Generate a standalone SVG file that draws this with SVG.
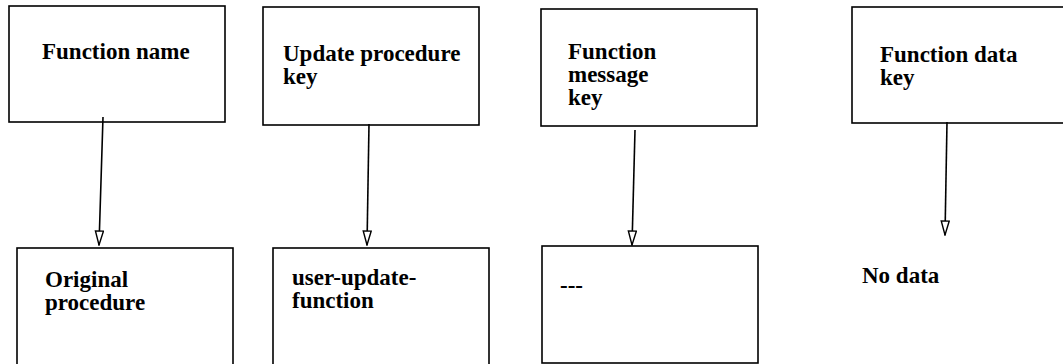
<svg xmlns="http://www.w3.org/2000/svg" width="1063" height="364" viewBox="0 0 1063 364">
<style>
  .box { fill: #ffffff; stroke: #000000; stroke-width: 1.6; }
  .t { font-family: "Liberation Serif", "Times New Roman", serif; font-weight: bold; font-size: 23px; fill: #000000; }
  .c { stroke: #000000; stroke-width: 1.6; fill: none; marker-end: url(#arrow); }
</style>
<defs>
  <marker id="arrow" markerWidth="16" markerHeight="10" viewBox="0 0 16 10" refX="15" refY="5" orient="auto" markerUnits="userSpaceOnUse">
    <path d="M1,1 L15,5 L1,9 Z" fill="#ffffff" stroke="#000000" stroke-width="1.4"/>
  </marker>
</defs>
<rect width="1063" height="364" fill="#ffffff"/>
<g id="n1">
  <rect class="box" x="9" y="6" width="216" height="116"/>
  <text class="t" x="42" y="59">Function name</text>
</g>
<g id="n2">
  <rect class="box" x="263" y="7" width="216" height="118"/>
  <text class="t" x="283" y="61">Update procedure</text>
  <text class="t" x="283" y="84">key</text>
</g>
<g id="n3">
  <rect class="box" x="541" y="9" width="216" height="117"/>
  <text class="t" x="568" y="59">Function</text>
  <text class="t" x="568" y="82">message</text>
  <text class="t" x="568" y="105">key</text>
</g>
<g id="n4">
  <rect class="box" x="852" y="7" width="230" height="116"/>
  <text class="t" x="880" y="62">Function data</text>
  <text class="t" x="880" y="85">key</text>
</g>
<g id="n5">
  <rect class="box" x="17" y="248" width="216" height="130"/>
  <text class="t" x="45" y="287">Original</text>
  <text class="t" x="45" y="310">procedure</text>
</g>
<g id="n6">
  <rect class="box" x="273" y="248" width="216" height="130"/>
  <text class="t" x="292" y="285">user-update-</text>
  <text class="t" x="292" y="308">function</text>
</g>
<g id="n7">
  <rect class="box" x="542" y="246" width="216" height="117"/>
  <text class="t" x="560" y="293">---</text>
</g>
<g id="n8">
  <text class="t" x="862" y="283">No data</text>
</g>
<g id="connectors">
  <path class="c" d="M103,117 L99,245"/>
  <path class="c" d="M369,124 L367,245"/>
  <path class="c" d="M635,130 L632,245"/>
  <path class="c" d="M947,122 L945,235"/>
</g>
</svg>
